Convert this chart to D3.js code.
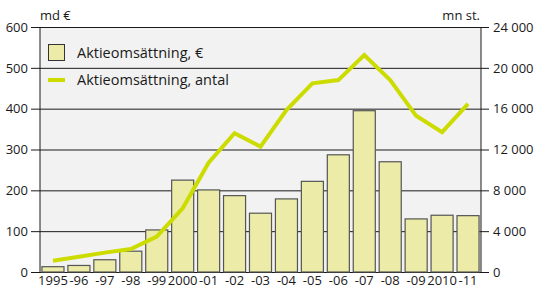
<!DOCTYPE html>
<html><head><meta charset="utf-8">
<script src="https://cdn.jsdelivr.net/npm/d3@7"></script>
<style>
body{margin:0;background:#fff;}
text{font-family:"Open Sans",sans-serif;}
</style></head>
<body><svg id="c" width="539" height="291"></svg>
<script>
const years = ["1995","-96","-97","-98","-99","2000","-01","-02","-03","-04","-05","-06","-07","-08","-09","2010","-11"];
const turnoverEur = [13,16,30,51,103,225,201,187,144,179,222,287,395,270,130,139,138];
const turnoverCount = [1100,1500,1900,2250,3460,6240,10700,13590,12280,15870,18480,18800,21260,18800,15300,13700,16460];
const leftTicks = [0,100,200,300,400,500,600];
const rightTicks = [0,4000,8000,12000,16000,20000,24000];
const legendLabels = ["Aktieomsättning, €","Aktieomsättning, antal"];

const svg = d3.select("#c");
const L=40, R=481, T=27, B=272;
const x = d3.scaleBand().domain(years).range([L,R]).paddingInner(0.15).paddingOuter(0.075);
const yL = d3.scaleLinear().domain([0,600]).range([B,T]);
const yR = d3.scaleLinear().domain([0,24000]).range([B,T]);
const lineCol = "#cddc00";

svg.append("rect").attr("x",L).attr("y",T).attr("width",R-L).attr("height",B-T).attr("fill","#f2f2f2");
svg.append("g").selectAll("line").data(leftTicks).join("line")
  .attr("x1",L).attr("x2",R).attr("y1",d=>yL(d)+0.5).attr("y2",d=>yL(d)+0.5)
  .attr("stroke","#1a1a1a").attr("stroke-width",1);

svg.append("g").selectAll("rect").data(years).join("rect")
  .attr("x",d=>x(d)).attr("width",x.bandwidth())
  .attr("y",(d,i)=>yL(turnoverEur[i])).attr("height",(d,i)=>B-yL(turnoverEur[i]))
  .attr("fill","#ececa8").attr("stroke","#555").attr("stroke-width",1.2);

const line = d3.line().x((d,i)=>x(years[i])+x.bandwidth()/2).y(d=>yR(d));
svg.append("path").datum(turnoverCount).attr("d",line).attr("fill","none")
  .attr("stroke",lineCol).attr("stroke-width",4).attr("stroke-linejoin","miter");

const axL = d3.axisLeft(yL).tickValues(leftTicks).tickSize(9).tickPadding(3).tickFormat(d3.format("d"));
const gL = svg.append("g").attr("transform",`translate(${L},0)`).call(axL);
const axR = d3.axisRight(yR).tickValues(rightTicks).tickSize(8).tickPadding(4).tickFormat(d=>d===0?"0":(d/1000)+" 000");
const gR = svg.append("g").attr("transform",`translate(${R},0)`).call(axR);
const axB = d3.axisBottom(x).tickSize(0).tickPadding(4);
const gB = svg.append("g").attr("transform",`translate(0,${B})`).call(axB);
gB.select(".domain").remove();
[gL,gR,gB].forEach(g=>{
  g.selectAll("text").attr("font-family","'Open Sans',sans-serif").attr("font-size",13).attr("fill","#1a1a1a");
  g.selectAll("line").attr("stroke","#1a1a1a");
  g.select(".domain").attr("stroke","#1a1a1a");
});
gB.selectAll("text").attr("dy","0.71em");
gL.select(".domain").attr("d",`M0,${T}V${B}`);
gR.select(".domain").attr("d",`M0,${T}V${B}`);

svg.append("text").attr("x",40).attr("y",20).attr("font-size",13).attr("fill","#1a1a1a").text("md €");
svg.append("text").attr("x",480).attr("y",20).attr("text-anchor","end").attr("font-size",13).attr("fill","#1a1a1a").text("mn st.");

svg.append("rect").attr("x",48.5).attr("y",44.5).attr("width",16).attr("height",16)
  .attr("fill","#ececa8").attr("stroke","#333").attr("stroke-width",1);
svg.append("text").attr("x",77).attr("y",58).attr("font-size",14.5).attr("fill","#1a1a1a").text(legendLabels[0]);
svg.append("line").attr("x1",48).attr("x2",65).attr("y1",80).attr("y2",80).attr("stroke",lineCol).attr("stroke-width",4);
svg.append("text").attr("x",77).attr("y",85).attr("font-size",14.5).attr("fill","#1a1a1a").text(legendLabels[1]);
</script></body></html>
